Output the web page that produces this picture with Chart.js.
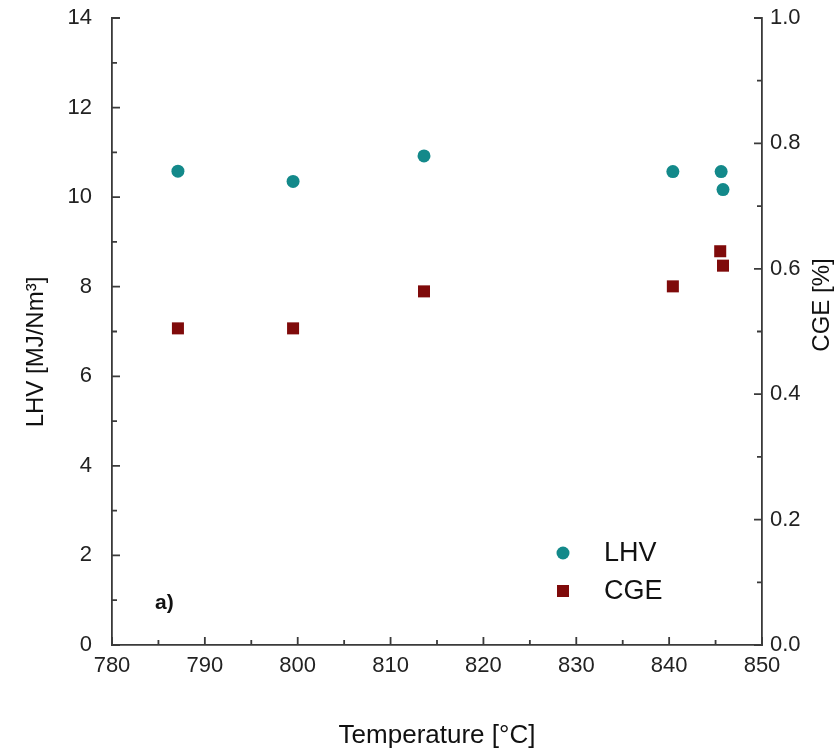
<!DOCTYPE html>
<html>
<head>
<meta charset="utf-8">
<script src="https://cdn.jsdelivr.net/npm/chart.js@4.4.1/dist/chart.umd.min.js"></script>
<style>
  html, body { margin: 0; padding: 0; background: #ffffff; }
  #wrap { width: 839px; height: 753px; position: relative; }
</style>
</head>
<body>
<div id="wrap"><canvas id="c" width="839" height="753"></canvas></div>
<script>
// Temperature [°C]
const lhvTemps = [787.1, 799.5, 813.6, 840.4, 845.6, 845.8];
const lhvValues = [10.58, 10.35, 10.92, 10.57, 10.57, 10.17];   // MJ/Nm3
const cgeTemps = [787.1, 799.5, 813.6, 840.4, 845.5, 845.8];
const cgeValues = [0.505, 0.505, 0.564, 0.572, 0.628, 0.605];   // CGE
const xTicks = [780, 790, 800, 810, 820, 830, 840, 850];
const yLeftTicks = [0, 2, 4, 6, 8, 10, 12, 14];
const yRightTicks = [0.0, 0.2, 0.4, 0.6, 0.8, 1.0];

const FONT = "'Liberation Sans', Arial, sans-serif";
const TEAL = '#13898a';
const RED = '#7f0a0a';
const AXIS = '#3a3a3a';

const inwardTicks = {
  id: 'inwardTicks',
  afterDraw(chart) {
    const ctx = chart.ctx;
    const a = chart.chartArea;
    const x = chart.scales.x, y = chart.scales.y, y2 = chart.scales.y2;
    ctx.save();
    ctx.strokeStyle = AXIS;
    ctx.lineWidth = 1.8;
    ctx.beginPath();
    for (let v = 780; v <= 850; v += 5) {
      const px = x.getPixelForValue(v);
      const len = (v % 10 === 0) ? 8 : 5;
      ctx.moveTo(px, a.bottom); ctx.lineTo(px, a.bottom - len);
    }
    for (let v = 0; v <= 14; v += 1) {
      const py = y.getPixelForValue(v);
      const len = (v % 2 === 0) ? 8 : 5;
      ctx.moveTo(a.left, py); ctx.lineTo(a.left + len, py);
    }
    for (let i = 0; i <= 10; i++) {
      const v = i / 10;
      const py = y2.getPixelForValue(v);
      const len = (i % 2 === 0) ? 8 : 5;
      ctx.moveTo(a.right, py); ctx.lineTo(a.right - len, py);
    }
    ctx.stroke();

    // axis titles
    ctx.fillStyle = '#111';
    ctx.textAlign = 'center';
    ctx.textBaseline = 'middle';
    ctx.font = '26px ' + FONT;
    ctx.fillText('Temperature [°C]', (a.left + a.right) / 2, 736);

    ctx.save();
    ctx.translate(36, 352);
    ctx.rotate(-Math.PI / 2);
    ctx.font = '24px ' + FONT;
    ctx.fillText('LHV [MJ/Nm³]', 0, 0);
    ctx.restore();

    ctx.save();
    ctx.translate(822, 305);
    ctx.rotate(-Math.PI / 2);
    ctx.font = '24px ' + FONT;
    ctx.fillText('CGE [%]', 0, 0);
    ctx.restore();

    // panel label
    ctx.font = 'bold 21px ' + FONT;
    ctx.textAlign = 'left';
    ctx.fillText('a)', 155, 603);

    // legend
    ctx.fillStyle = TEAL;
    ctx.beginPath();
    ctx.arc(563, 553, 6.5, 0, Math.PI * 2);
    ctx.fill();
    ctx.fillStyle = RED;
    ctx.fillRect(557, 585, 12, 12);
    ctx.fillStyle = '#111';
    ctx.font = '27px ' + FONT;
    ctx.fillText('LHV', 604, 554);
    ctx.fillText('CGE', 604, 592);
    ctx.restore();
  }
};

const tickFont = { family: FONT, size: 22 };
const noPadV = s => { s.paddingTop = 0; s.paddingBottom = 0; };

new Chart(document.getElementById('c'), {
  type: 'scatter',
  data: {
    datasets: [
      {
        label: 'LHV',
        data: lhvTemps.map((t, i) => ({ x: t, y: lhvValues[i] })),
        yAxisID: 'y',
        pointStyle: 'circle',
        pointRadius: 6.5,
        pointHoverRadius: 6.5,
        backgroundColor: TEAL,
        borderColor: TEAL,
        borderWidth: 0
      },
      {
        label: 'CGE',
        data: cgeTemps.map((t, i) => ({ x: t, y: cgeValues[i] })),
        yAxisID: 'y2',
        pointStyle: 'rect',
        pointRadius: 8.5,
        pointHoverRadius: 8.5,
        backgroundColor: RED,
        borderColor: RED,
        borderWidth: 0
      }
    ]
  },
  options: {
    responsive: false,
    animation: false,
    layout: { padding: { top: 18, left: 0, right: 0, bottom: 0 } },
    plugins: { legend: { display: false }, tooltip: { enabled: false } },
    scales: {
      x: {
        type: 'linear', position: 'bottom', min: 780, max: 850,
        afterBuildTicks: s => { s.ticks = xTicks.map(v => ({ value: v })); },
        afterFit: s => { s.height = 108; s.paddingLeft = 0; s.paddingRight = 0; },
        grid: { drawOnChartArea: false, drawTicks: false },
        border: { display: true, color: AXIS, width: 1.8 },
        ticks: { font: tickFont, color: '#222', padding: 8, maxRotation: 0 }
      },
      y: {
        type: 'linear', position: 'left', min: 0, max: 14,
        afterBuildTicks: s => { s.ticks = yLeftTicks.map(v => ({ value: v })); },
        afterFit: s => { s.width = 112; noPadV(s); },
        grid: { drawOnChartArea: false, drawTicks: false },
        border: { display: true, color: AXIS, width: 1.8 },
        ticks: { font: tickFont, color: '#222', padding: 20 }
      },
      y2: {
        type: 'linear', position: 'right', min: 0, max: 1,
        afterBuildTicks: s => { s.ticks = yRightTicks.map(v => ({ value: v })); },
        afterFit: s => { s.width = 77; noPadV(s); },
        grid: { drawOnChartArea: false, drawTicks: false },
        border: { display: true, color: AXIS, width: 1.8 },
        ticks: { font: tickFont, color: '#222', padding: 8, callback: v => Number(v).toFixed(1) }
      }
    }
  },
  plugins: [inwardTicks]
});
</script>
</body>
</html>
